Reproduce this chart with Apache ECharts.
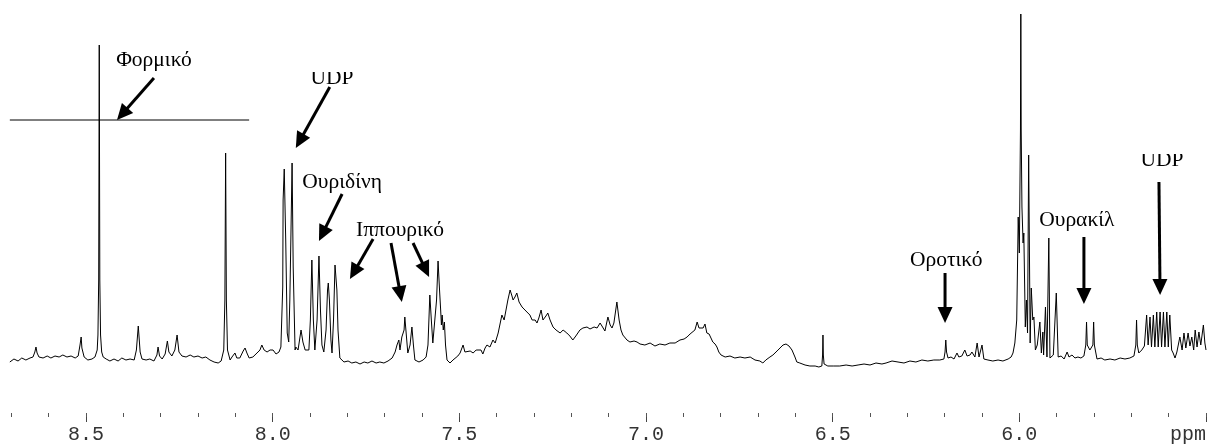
<!DOCTYPE html>
<html>
<head>
<meta charset="utf-8">
<script src="https://cdn.jsdelivr.net/npm/echarts@6/dist/echarts.min.js"></script>
<style>
  html, body { margin: 0; padding: 0; background: #fff; }
  #chart { width: 1209px; height: 446px; }
</style>
</head>
<body>
<div id="chart"></div>
<script>
// 1H NMR spectrum, aromatic / anomeric region: [chemical shift (ppm), intensity (a.u.)]
const spectrum = [
  [8.704,18],[8.693,21],[8.682,19],[8.672,22],[8.661,20],[8.650,22],[8.642,23],[8.637,28],[8.634,33],[8.631,27],
  [8.626,23],[8.615,22],[8.604,24],[8.594,22],[8.583,24],[8.572,23],[8.562,25],[8.551,23],[8.540,24],[8.529,22],
  [8.521,24],[8.516,35],[8.513,43],[8.511,32],[8.505,23],[8.495,20],[8.484,21],[8.476,23],[8.470,30],[8.468,45],
  [8.466,100],[8.4645,335],[8.463,100],[8.461,45],[8.458,28],[8.454,23],[8.446,21],[8.436,19],[8.425,21],[8.414,19],
  [8.404,22],[8.393,20],[8.382,21],[8.371,20],[8.365,30],[8.360,54],[8.355,28],[8.350,21],[8.339,20],[8.329,21],
  [8.318,19],[8.310,25],[8.307,33],[8.303,24],[8.296,21],[8.288,26],[8.282,39],[8.278,28],[8.270,24],[8.262,30],
  [8.256,45],[8.251,28],[8.243,24],[8.232,23],[8.221,25],[8.211,23],[8.200,24],[8.189,22],[8.179,23],[8.168,20],
  [8.157,18],[8.146,17],[8.138,19],[8.131,30],[8.128,80],[8.126,227],[8.124,80],[8.121,30],[8.114,20],[8.109,23],
  [8.101,27],[8.096,22],[8.088,22],[8.079,29],[8.074,32],[8.069,27],[8.063,22],[8.053,23],[8.042,27],[8.034,30],
  [8.029,35],[8.023,30],[8.015,28],[8.007,30],[7.999,30],[7.991,26],[7.983,28],[7.978,33],[7.973,93],[7.972,180],
  [7.969,211],[7.965,140],[7.961,47],[7.957,38],[7.954,80],[7.951,147],[7.948,217],[7.945,113],[7.940,30],[7.938,33],
  [7.932,30],[7.924,50],[7.919,38],[7.913,30],[7.908,28],[7.903,30],[7.899,60],[7.895,120],[7.891,60],[7.887,30],
  [7.881,60],[7.876,124],[7.872,70],[7.868,35],[7.863,28],[7.857,50],[7.853,90],[7.851,97],[7.848,80],[7.844,40],
  [7.841,27],[7.837,60],[7.833,115],[7.830,100],[7.828,90],[7.825,50],[7.820,22],[7.809,18],[7.798,19],[7.788,17],
  [7.777,18],[7.766,16],[7.755,18],[7.745,17],[7.734,19],[7.723,17],[7.713,18],[7.702,17],[7.691,19],[7.680,22],
  [7.672,28],[7.667,35],[7.662,40],[7.659,30],[7.654,43],[7.648,50],[7.646,63],[7.642,45],[7.638,27],[7.632,35],
  [7.627,53],[7.623,35],[7.619,20],[7.608,18],[7.597,20],[7.589,23],[7.584,35],[7.579,85],[7.575,60],[7.571,37],
  [7.565,63],[7.561,80],[7.557,119],[7.553,90],[7.550,70],[7.548,55],[7.546,65],[7.543,50],[7.540,58],[7.537,35],
  [7.533,20],[7.525,17],[7.517,20],[7.512,22],[7.504,24],[7.498,27],[7.490,35],[7.485,28],[7.480,26],[7.471,29],
  [7.463,27],[7.455,30],[7.450,28],[7.442,30],[7.437,26],[7.431,32],[7.426,35],[7.418,33],[7.410,40],[7.404,37],
  [7.396,47],[7.391,48],[7.386,65],[7.380,60],[7.375,70],[7.370,80],[7.364,90],[7.359,84],[7.356,80],[7.351,83],
  [7.346,87],[7.340,78],[7.332,73],[7.327,75],[7.319,68],[7.311,65],[7.305,60],[7.297,60],[7.292,57],[7.287,62],
  [7.281,70],[7.276,60],[7.268,64],[7.263,67],[7.257,60],[7.249,53],[7.241,50],[7.230,47],[7.222,50],[7.212,47],
  [7.204,44],[7.196,40],[7.188,44],[7.177,50],[7.169,52],[7.158,53],[7.150,51],[7.139,53],[7.131,52],[7.123,57],
  [7.118,54],[7.110,49],[7.102,63],[7.096,55],[7.091,52],[7.086,57],[7.078,78],[7.072,60],[7.067,50],[7.062,45],
  [7.051,40],[7.043,38],[7.032,39],[7.024,38],[7.016,36],[7.003,35],[6.989,37],[6.976,34],[6.963,36],[6.949,35],
  [6.936,37],[6.922,37],[6.909,40],[6.898,41],[6.890,43],[6.882,46],[6.877,48],[6.869,50],[6.863,58],[6.858,52],
  [6.853,50],[6.847,52],[6.842,56],[6.837,47],[6.831,46],[6.826,42],[6.821,38],[6.815,36],[6.810,33],[6.805,28],
  [6.799,25],[6.788,23],[6.775,24],[6.762,22],[6.748,23],[6.735,22],[6.721,23],[6.708,20],[6.695,19],[6.687,17],
  [6.679,20],[6.668,23],[6.660,25],[6.649,29],[6.641,32],[6.633,35],[6.625,36],[6.617,34],[6.609,30],[6.601,23],
  [6.596,18],[6.588,17],[6.574,15],[6.561,14],[6.547,14],[6.537,13],[6.529,14],[6.527,25],[6.526,45],[6.525,25],
  [6.523,16],[6.513,14],[6.497,14],[6.481,14],[6.464,15],[6.448,14],[6.432,15],[6.416,16],[6.400,15],[6.384,17],
  [6.368,16],[6.357,17],[6.341,19],[6.325,18],[6.309,17],[6.293,19],[6.277,18],[6.261,20],[6.245,19],[6.229,20],
  [6.213,20],[6.202,21],[6.199,28],[6.197,40],[6.195,28],[6.191,22],[6.183,23],[6.175,21],[6.167,27],[6.162,23],
  [6.154,24],[6.146,30],[6.140,24],[6.132,25],[6.127,28],[6.119,23],[6.113,37],[6.108,23],[6.100,35],[6.095,21],
  [6.084,20],[6.071,19],[6.057,20],[6.044,19],[6.030,21],[6.022,23],[6.017,27],[6.012,37],[6.007,60],[6.003,163],
  [6.000,127],[5.997,250],[5.996,366],[5.995,250],[5.993,173],[5.990,137],[5.988,147],[5.984,53],[5.981,80],[5.978,47],
  [5.975,225],[5.971,37],[5.968,92],[5.964,60],[5.961,63],[5.957,30],[5.952,35],[5.945,58],[5.941,27],[5.937,48],
  [5.935,25],[5.930,73],[5.926,23],[5.921,142],[5.918,22],[5.909,25],[5.901,87],[5.896,23],[5.888,24],[5.880,21],
  [5.872,28],[5.867,23],[5.859,25],[5.851,22],[5.843,23],[5.835,22],[5.827,24],[5.822,35],[5.820,58],[5.818,35],
  [5.811,30],[5.803,35],[5.801,58],[5.799,35],[5.792,21],[5.781,22],[5.771,20],[5.757,21],[5.744,20],[5.730,22],
  [5.717,21],[5.704,22],[5.693,24],[5.688,35],[5.686,60],[5.684,35],[5.680,27],[5.672,30],[5.665,34],[5.659,65],
  [5.655,35],[5.650,63],[5.646,33],[5.641,65],[5.637,33],[5.632,68],[5.628,33],[5.623,68],[5.619,33],[5.614,68],
  [5.610,33],[5.605,68],[5.601,33],[5.597,65],[5.592,30],[5.588,27],[5.583,22],[5.578,28],[5.570,43],[5.564,30],
  [5.559,47],[5.554,32],[5.548,47],[5.543,34],[5.538,43],[5.533,30],[5.529,50],[5.524,33],[5.519,48],[5.514,35],
  [5.507,55],[5.503,37],[5.500,30]
];

// Axis ticks (ppm)
const majorTicks = [8.5, 8.0, 7.5, 7.0, 6.5, 6.0, 5.5];
const minorTicks = [8.7, 8.6, 8.5, 8.4, 8.3, 8.2, 8.1, 8.0, 7.9, 7.8, 7.7, 7.6, 7.5, 7.4, 7.3, 7.2, 7.1, 7.0,
                    6.9, 6.8, 6.7, 6.6, 6.5, 6.4, 6.3, 6.2, 6.1, 6.0, 5.9, 5.8, 5.7, 5.6, 5.5];

// Metabolite assignments: label text and label anchor [ppm, intensity]
const annoText = ['Φορμικό', 'UDP', 'Ουριδίνη', 'Ιππουρικό', 'Οροτικό', 'Ουρακίλ', 'UDP'];
const annoAt = [[8.318, 320], [7.841, 302], [7.814, 198], [7.659, 150], [6.196, 120], [5.846, 160], [5.618, 220]];
// labels whose top edge is trimmed in the original figure
const annoTrimmed = [false, true, false, false, false, false, true];

// Arrows [ppm from, intensity from, ppm to, intensity to]
const arrows = [
  [8.318, 302, 8.417, 260],
  [7.847, 293, 7.938, 232],
  [7.814, 186, 7.876, 139],
  [7.731, 141, 7.793, 101],
  [7.683, 137, 7.654, 78],
  [7.624, 137, 7.581, 103],
  [6.199, 107, 6.199, 57],
  [5.827, 143, 5.827, 76],
  [5.626, 198, 5.623, 85]
];

// Horizontal cut line across the formate signal
const cutLine = [[8.704, 260], [8.063, 260]];

const X_MIN = 5.5, X_MAX = 8.71;
const Y_MIN = -33, Y_MAX = 370;

function renderArrow(params, api) {
  const a = api.coord([api.value(0), api.value(1)]);
  const b = api.coord([api.value(2), api.value(3)]);
  const dx = b[0] - a[0], dy = b[1] - a[1];
  const len = Math.hypot(dx, dy);
  const ux = dx / len, uy = dy / len;
  const headLen = 16, headHalf = 7.5;
  const bx = b[0] - ux * headLen, by = b[1] - uy * headLen;
  return {
    type: 'group',
    children: [
      { type: 'line', shape: { x1: a[0], y1: a[1], x2: bx + ux * 2, y2: by + uy * 2 },
        style: { stroke: '#000', lineWidth: 3 } },
      { type: 'polygon',
        shape: { points: [[b[0], b[1]], [bx - uy * headHalf, by + ux * headHalf], [bx + uy * headHalf, by - ux * headHalf]] },
        style: { fill: '#000' } }
    ]
  };
}

function renderLabel(params, api) {
  const p = api.coord([api.value(0), api.value(1)]);
  const children = [{
    type: 'text',
    style: {
      text: annoText[params.dataIndex],
      x: p[0], y: p[1],
      align: 'center', verticalAlign: 'middle',
      font: '21.5px "Liberation Serif", "DejaVu Serif", serif',
      fill: '#000'
    }
  }];
  if (annoTrimmed[params.dataIndex]) {
    children.push({
      type: 'rect', shape: { x: p[0] - 32, y: p[1] - 18, width: 64, height: 12 },
      style: { fill: '#fff' }
    });
  }
  return { type: 'group', children };
}

const gridBox = { left: 7.6, right: 3, top: 10, bottom: 33, outerBoundsMode: 'none', containLabel: false };

const tickFont = '"Liberation Mono", "DejaVu Sans Mono", monospace';

const option = {
  animation: false,
  backgroundColor: '#fff',
  grid: [Object.assign({}, gridBox), Object.assign({}, gridBox)],
  xAxis: [
    {
      type: 'value', gridIndex: 0, min: X_MIN, max: X_MAX, inverse: true, position: 'bottom',
      axisLine: { show: false, onZero: false },
      splitLine: { show: false },
      axisTick: { show: true, length: 9, customValues: majorTicks, lineStyle: { color: '#444', width: 1 } },
      axisLabel: {
        show: true, customValues: majorTicks, margin: 12,
        fontFamily: tickFont, fontSize: 20, color: '#333',
        formatter: v => (Math.abs(v - 5.5) < 1e-9 ? '{u|ppm}' : v.toFixed(1)),
        rich: { u: { fontFamily: tickFont, fontSize: 20, color: '#333', padding: [0, 36, 0, 0] } }
      }
    },
    {
      type: 'value', gridIndex: 1, min: X_MIN, max: X_MAX, inverse: true, position: 'bottom',
      axisLine: { show: false, onZero: false },
      splitLine: { show: false },
      axisTick: { show: true, length: 4, customValues: minorTicks, lineStyle: { color: '#555', width: 1 } },
      axisLabel: { show: false }
    }
  ],
  yAxis: [
    { type: 'value', gridIndex: 0, min: Y_MIN, max: Y_MAX, show: false },
    { type: 'value', gridIndex: 1, min: Y_MIN, max: Y_MAX, show: false }
  ],
  series: [
    {
      type: 'line', xAxisIndex: 0, yAxisIndex: 0, data: spectrum,
      showSymbol: false, symbol: 'none', smooth: false, sampling: false,
      lineStyle: { color: '#000', width: 1 }, clip: false, silent: true
    },
    {
      type: 'line', xAxisIndex: 0, yAxisIndex: 0, data: cutLine,
      showSymbol: false, symbol: 'none',
      lineStyle: { color: '#000', width: 1 }, silent: true
    },
    {
      type: 'custom', xAxisIndex: 0, yAxisIndex: 0, data: arrows,
      encode: { x: [0, 2], y: [1, 3] }, renderItem: renderArrow, clip: false, silent: true
    },
    {
      type: 'custom', xAxisIndex: 0, yAxisIndex: 0, data: annoAt,
      encode: { x: 0, y: 1 }, renderItem: renderLabel, clip: false, silent: true
    }
  ]
};

const chart = echarts.init(document.getElementById('chart'), null, { renderer: 'canvas' });
chart.setOption(option);
</script>
</body>
</html>
